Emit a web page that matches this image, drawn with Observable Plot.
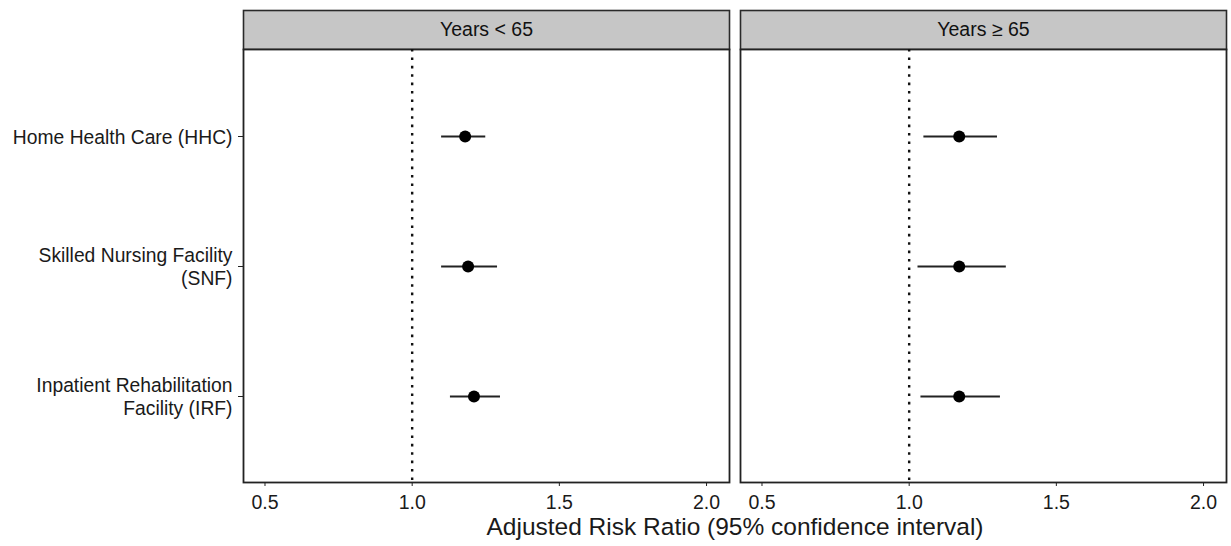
<!DOCTYPE html>
<html>
<head>
<meta charset="utf-8">
<script src="https://cdn.jsdelivr.net/npm/d3@7"></script>
<script src="https://cdn.jsdelivr.net/npm/@observablehq/plot@0.6"></script>
<style>
  html, body { margin: 0; padding: 0; background: #fff; }
  #chart svg { display: block; font-family: "Liberation Sans", Arial, sans-serif; }
  #xtitle {
    margin-left: 243px; width: 984px; height: 30px; line-height: 22px;
    text-align: center; font-family: "Liberation Sans", Arial, sans-serif;
    font-size: 24.5px; color: #1a1a1a;
  }
</style>
</head>
<body>
<div id="chart"></div>
<div id="xtitle"></div>
<script>
// ---- data ----
const groups = ["Years < 65", "Years \u2265 65"];
const categories = ["HHC", "SNF", "IRF"];
const categoryLabels = ["Home Health Care (HHC)", "Skilled Nursing Facility\n(SNF)", "Inpatient Rehabilitation\nFacility (IRF)"];
const rrUnder65 = [1.18, 1.19, 1.21];
const loUnder65 = [1.10, 1.10, 1.13];
const hiUnder65 = [1.25, 1.29, 1.30];
const rrOver65 = [1.17, 1.17, 1.17];
const loOver65 = [1.05, 1.03, 1.04];
const hiOver65 = [1.30, 1.33, 1.31];
const xTicks = [0.5, 1.0, 1.5, 2.0];
const referenceLine = [1.0];
const xTitle = "Adjusted Risk Ratio (95% confidence interval)";

// ---- table ----
const rows = [];
categories.forEach((c, i) => {
  rows.push({group: groups[0], cat: c, rr: rrUnder65[i], lo: loUnder65[i], hi: hiUnder65[i]});
  rows.push({group: groups[1], cat: c, rr: rrOver65[i], lo: loOver65[i], hi: hiOver65[i]});
});
const labelOf = new Map(categories.map((c, i) => [c, categoryLabels[i]]));

const W = 1231, H = 516, mTop = 49, mBottom = 34;
const frameH = H - mTop - mBottom;
const ink = "#1a1a1a";

const chart = Plot.plot({
  width: W,
  height: H,
  marginLeft: 243,
  marginRight: 4,
  marginTop: mTop,
  marginBottom: mBottom,
  style: {fontFamily: "Liberation Sans, Arial, sans-serif", color: ink, background: "#fff"},
  fx: {domain: groups, paddingInner: 0.022, paddingOuter: 0, axis: null, label: null},
  x: {domain: [0.427, 2.078], label: null},
  y: {type: "point", domain: categories, padding: 0.653, label: null},
  marks: [
    // strip background
    Plot.frame({fill: "#c6c6c6", stroke: "#2a2a2a", strokeWidth: 1.6, insetTop: -39, insetBottom: frameH}),
    Plot.text(groups, {fx: d => d, text: d => d, frameAnchor: "top", dy: -19.5, lineAnchor: "middle", fontSize: 19.5, fill: "#111"}),
    // panel
    Plot.frame({fill: "#fff", stroke: "#222", strokeWidth: 1.8}),
    Plot.ruleX(referenceLine, {x: d => d, stroke: "#111", strokeWidth: 2.4, strokeDasharray: "2.6,5.8"}),
    Plot.ruleY(rows, {fx: "group", y: "cat", x1: "lo", x2: "hi", stroke: "#222", strokeWidth: 2}),
    Plot.dot(rows, {fx: "group", y: "cat", x: "rr", r: 6, fill: "#000", stroke: "none"}),
    Plot.axisY({tickFormat: d => labelOf.get(d), tickSize: 5, tickPadding: 6, fontSize: 19.3, lineHeight: 1.16, stroke: "#222", fill: ink}),
    Plot.axisX({ticks: xTicks, tickFormat: d3.format(".1f"), tickSize: 4, tickPadding: 9, fontSize: 19.5, stroke: "#222", fill: ink, label: null})
  ]
});
document.getElementById("chart").appendChild(chart);
document.getElementById("xtitle").textContent = xTitle;
</script>
</body>
</html>
